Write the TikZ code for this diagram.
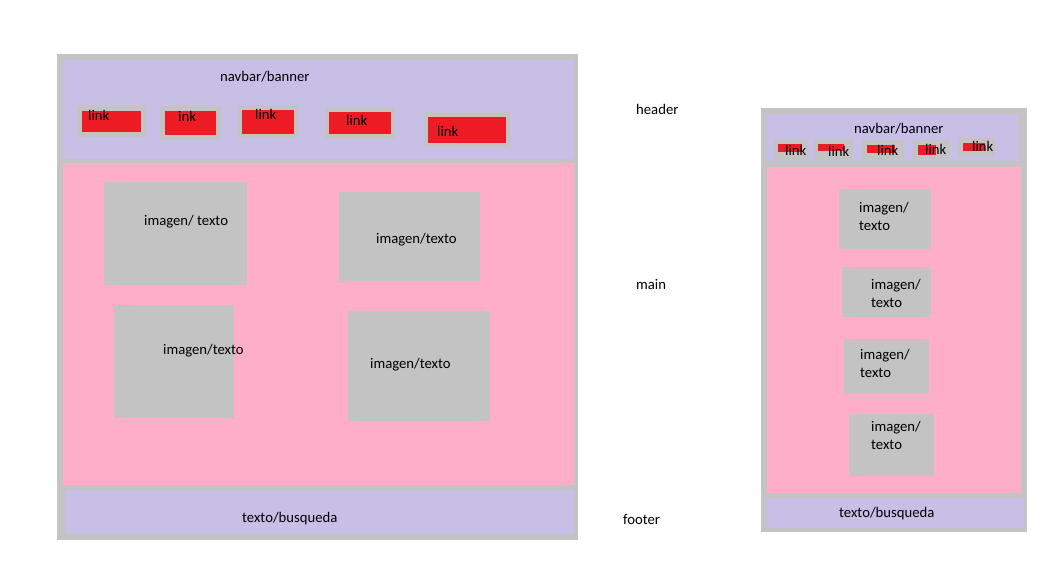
\documentclass[tikz,border=0pt]{standalone}
\usepackage{fontspec}
\setmainfont{Carlito}
\usepackage{tikz}
\definecolor{PaintGray}{HTML}{C3C3C3}
\definecolor{Lavender}{HTML}{C8BFE7}
\definecolor{Rose}{HTML}{FFAEC9}
\definecolor{LinkRed}{HTML}{ED1C24}

\begin{document}
\begin{tikzpicture}[x=1pt,y=-1pt,
    frame/.style={fill=PaintGray},
    band/.style={fill=Lavender},
    body/.style={fill=Rose},
    halo/.style={fill=PaintGray},
    btn/.style={fill=LinkRed},
    txt/.style={anchor=base west,inner sep=0pt,font=\fontsize{14.7}{18}\selectfont},
    txt2/.style={txt,align=left}]
    \useasboundingbox[fill=white] (0,0) rectangle (1059,560);
    % wide layout
    \fill[frame] (57,54) rectangle (578,540);
    \fill[band] (63,60) rectangle (574,159);
    \fill[body] (63,163) rectangle (574,485);
    \fill[band] (65,490) rectangle (574,534);
    \node[txt] (wbanner) at (220,81) {navbar/banner};
    \fill[halo] (77,106) rectangle (146,137);
    \fill[btn] (82,111) rectangle (141,132);
    \fill[halo] (160,106) rectangle (221,140);
    \fill[btn] (165,111) rectangle (216,135);
    \fill[halo] (238,105) rectangle (298,138);
    \fill[btn] (242,110) rectangle (294,134);
    \fill[halo] (325,107) rectangle (395,139);
    \fill[btn] (329,112) rectangle (391,134);
    \fill[halo] (424,112) rectangle (510,147);
    \fill[btn] (428,117) rectangle (506,143);
    \node[txt] (wlinka) at (88,120) {link};
    \node[txt] (wlinkb) at (178,121) {ink};
    \node[txt] (wlinkc) at (255,119) {link};
    \node[txt] (wlinkd) at (346,125) {link};
    \node[txt] (wlinke) at (437,136) {link};
    \fill[frame] (104,182) rectangle (247,285);
    \fill[frame] (339,192) rectangle (480,281);
    \fill[frame] (114,305) rectangle (234,418);
    \fill[frame] (348,311) rectangle (490,421);
    \node[txt] (wimga) at (144,225) {imagen/ texto};
    \node[txt] (wimgb) at (376,243) {imagen/texto};
    \node[txt] (wimgc) at (163,354) {imagen/texto};
    \node[txt] (wimgd) at (370,368) {imagen/texto};
    \node[txt] (wfooter) at (242,522) {texto/busqueda};
    % section names
    \node[txt] (lheader) at (636,114) {header};
    \node[txt] (lmain) at (636,289) {main};
    \node[txt] (lfooter) at (623,524) {footer};
    % narrow layout
    \fill[frame] (761,108) rectangle (1027,532);
    \fill[band] (767,114) rectangle (1019,161);
    \fill[body] (767,167) rectangle (1021,493);
    \fill[band] (767,498) rectangle (1024,528);
    \node[txt] (nbanner) at (854,133) {navbar/banner};
    \fill[halo] (774,139) rectangle (808,160);
    \fill[halo] (814,139) rectangle (853,160);
    \fill[halo] (862,140) rectangle (904,159);
    \fill[halo] (913,140) rectangle (950,159);
    \fill[halo] (958,138) rectangle (995,157);
    \fill[btn] (778,144) rectangle (802,152);
    \fill[btn] (818,144) rectangle (844,151);
    \fill[btn] (867,145) rectangle (895,153);
    \fill[btn] (918,145) rectangle (936,155);
    \fill[btn] (963,143) rectangle (985,151);
    \node[txt] (nlinka) at (785,155) {link};
    \node[txt] (nlinkb) at (828,156) {link};
    \node[txt] (nlinkc) at (877,155) {link};
    \node[txt] (nlinkd) at (925,154) {link};
    \node[txt] (nlinke) at (972,151) {link};
    \fill[frame] (839,189) rectangle (931,249);
    \fill[frame] (842,267) rectangle (931,317);
    \fill[frame] (844,339) rectangle (929,394);
    \fill[frame] (849,414) rectangle (934,476);
    \node[txt2] (nimga) at (859,230) {imagen/\\texto};
    \node[txt2] (nimgb) at (871,307) {imagen/\\texto};
    \node[txt2] (nimgc) at (860,377) {imagen/\\texto};
    \node[txt2] (nimgd) at (871,449) {imagen/\\texto};
    \node[txt] (nfooter) at (839,517) {texto/busqueda};
  \end{tikzpicture}
\end{document}
